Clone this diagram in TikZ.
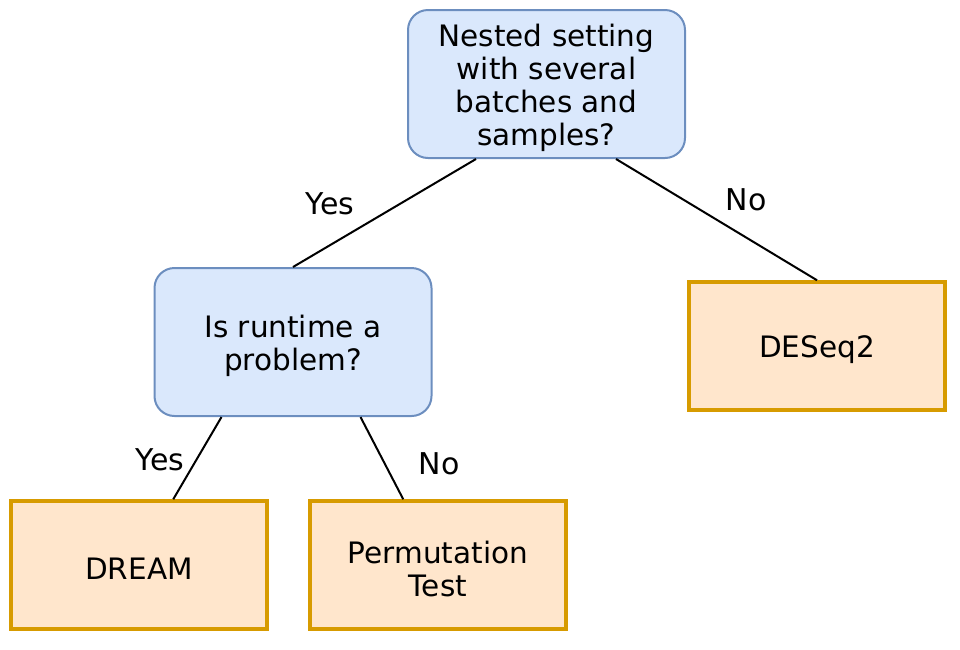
\documentclass[tikz,border=0pt]{standalone}
\usepackage{fontspec}
\setmainfont{DejaVu Sans}
\usetikzlibrary{calc}
\definecolor{qfill}{HTML}{DAE8FC}
\definecolor{qdraw}{HTML}{6C8EBF}
\definecolor{afill}{HTML}{FFE6CC}
\definecolor{adraw}{HTML}{D79B00}
\begin{document}
\begin{tikzpicture}[x=1pt,y=-1pt,
  question/.style={draw=qdraw,fill=qfill,line width=2pt,rounded corners=20pt,
    minimum width=277pt,minimum height=148pt,inner sep=0pt},
  answer/.style={draw=adraw,fill=afill,line width=3.5pt,
    minimum width=256pt,minimum height=128pt,inner sep=0pt},
  boxtext/.style={align=center,inner sep=0pt,font=\fontsize{29.5}{33}\selectfont},
  edge/.style={line width=2pt,black},
  elabel/.style={font=\fontsize{30}{33}\selectfont,inner sep=0pt}]
\useasboundingbox (0,0) rectangle (960,649);
\node[question] (top) at (546.5,84) {};
\node[question] (mid) at (293,342) {};
\node[answer] (deseq) at (817,346) {};
\node[answer] (dream) at (139,565) {};
\node[answer] (perm) at (438,565) {};
\node[boxtext] (topt) at ($(top)+(0,4)$) {Nested setting\\with several\\batches and\\samples?};
\node[boxtext] (midt) at ($(mid)+(0,4)$) {Is runtime a\\problem?};
\node[boxtext] (deseqt) at ($(deseq)+(0,4)$) {DESeq2};
\node[boxtext] (dreamt) at ($(dream)+(0,4)$) {DREAM};
\node[boxtext] (permt) at ($(perm)+(0,4)$) {Permutation\\Test};
\draw[edge] ($(top.south west)+(69,0)$) -- (mid.north);
\draw[edge] ($(top.south west)+(209,0)$) -- (deseq.north);
\draw[edge] ($(mid.south west)+(68,0)$) -- ($(dream.north west)+(164,0)$);
\draw[edge] ($(mid.south west)+(207,0)$) -- ($(perm.north west)+(95,0)$);
\node[elabel] (l1) at (330,204) {Yes};
\node[elabel] (l2) at (746,200) {No};
\node[elabel] (l3) at (160,460) {Yes};
\node[elabel] (l4) at (439,464) {No};
\end{tikzpicture}
\end{document}
